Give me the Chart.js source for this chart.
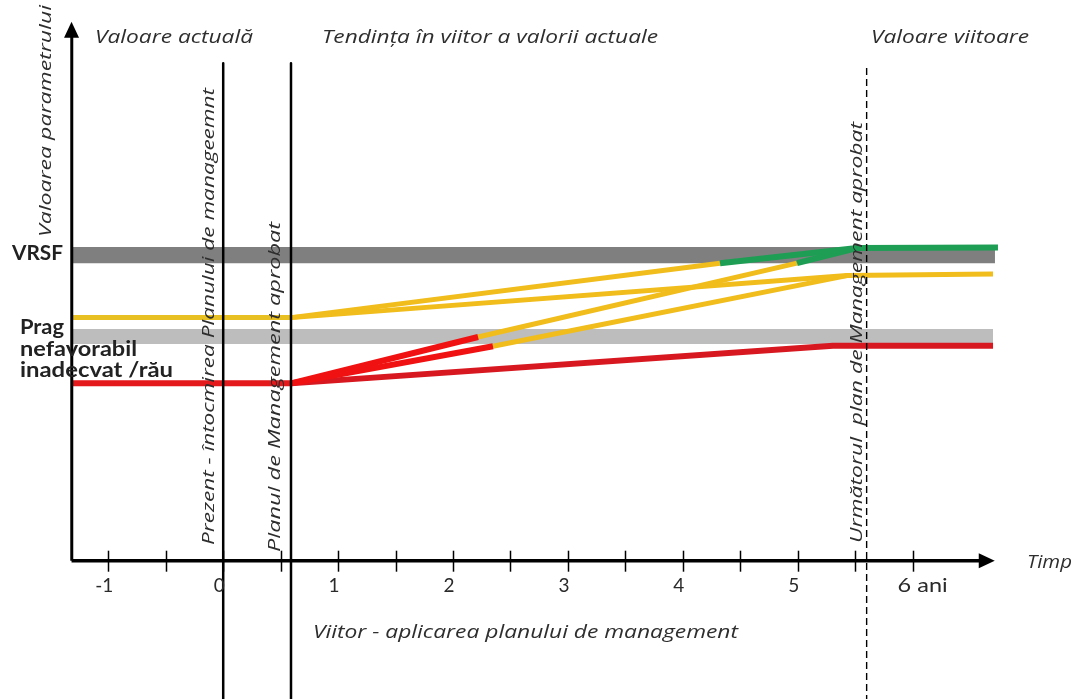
<!DOCTYPE html>
<html>
<head>
<meta charset="utf-8">
<script src="https://cdn.jsdelivr.net/npm/chart.js@4.4.1/dist/chart.umd.min.js"></script>
<style>
  html, body { margin: 0; padding: 0; background: #ffffff; }
  canvas { display: block; }
</style>
</head>
<body>
<canvas id="c" width="1078" height="699"></canvas>
<script>
// ---------- DATA (time in years, parameter value in arbitrary units) ----------
const tickValues = [-1, -0.5, 0, 0.5, 1, 1.5, 2, 2.5, 3, 3.5, 4, 4.5, 5, 5.5, 6];
const tickLabels = ["-1", "0", "1", "2", "3", "4", "5", "6 ani"];
const tickLabelValues = [-1, 0, 1, 2, 3, 4, 5, 6];

const timeStart = -1.32;          // start of the time axis (y axis position)
const timeAxisEnd = 6.715;        // arrow tip of time axis
const paramAxisTop = 100;         // arrow tip of value axis
const planPresent = 0;            // "Prezent - întocmirea Planului..."
const planApproved = 0.59;        // "Planul de Management aprobat"
const planNext = 5.6;             // "Următorul plan de Management aprobat"

// reference bands
const vrsfBandTime = [-1.318, 6.717];
const vrsfBandTop = [58.2, 58.2];
const vrsfBandBottom = [55.2, 55.2];
const pragBandTime = [-1.318, 6.70];
const pragBandTop = [43.0, 43.0];
const pragBandBottom = [40.2, 40.2];

// current value - favourable (yellow) and unfavourable (red)
const actualTime = [-1.32, 0.59];
const actualYellow = [45.1, 45.1];
const actualRed = [32.9, 32.9];

// trends from the yellow current value
const yellowATime = [0.59, 4.324];
const yellowAValue = [45.1, 55.2];
const greenATime = [4.324, 5.516, 6.743];
const greenAValue = [55.2, 58.0, 58.1];
const yellowBTime = [0.59, 5.429, 6.70];
const yellowBValue = [45.1, 52.9, 53.2];

// trends from the red current value
const redATime = [0.59, 2.218];
const redAValue = [32.9, 41.5];
const redAYellowTime = [2.218, 4.994];
const redAYellowValue = [41.5, 55.2];
const redAGreenTime = [4.994, 5.516];
const redAGreenValue = [55.2, 58.0];
const redBTime = [0.59, 2.348];
const redBValue = [32.9, 39.8];
const redBYellowTime = [2.348, 5.429];
const redBYellowValue = [39.8, 52.9];
const redCTime = [0.59, 5.307, 6.70];
const redCValue = [32.9, 39.9, 39.9];

// plan marker lines (value extents)
const markerTopSolid = 92.3;
const markerTopDashed = 91.4;
const markerBottom = -25.66;

// ---------- helpers ----------
const zip = (xs, ys) => xs.map((x, i) => ({ x: x, y: ys[i] }));

const YELLOW = '#F0BD1C';
const RED = '#E3191C';
const RED2 = '#F01212';
const GREEN = '#1E9E55';

function lineDS(xs, ys, color, width, order, extra) {
  return Object.assign({
    data: zip(xs, ys), borderColor: color, borderWidth: width, fill: false,
    pointRadius: 0, tension: 0, order: order,
    borderCapStyle: 'butt', borderJoinStyle: 'round'
  }, extra || {});
}

const datasets = [
  // bands (bottom layer)
  { data: zip(vrsfBandTime, vrsfBandTop), borderWidth: 0, pointRadius: 0, fill: '+1', backgroundColor: '#7F7F7F', order: 20 },
  { data: zip(vrsfBandTime, vrsfBandBottom), borderWidth: 0, pointRadius: 0, fill: false, order: 20 },
  { data: zip(pragBandTime, pragBandTop), borderWidth: 0, pointRadius: 0, fill: '+1', backgroundColor: '#BDBDBD', order: 20 },
  { data: zip(pragBandTime, pragBandBottom), borderWidth: 0, pointRadius: 0, fill: false, order: 20 },
  // trend lines
  lineDS(actualTime, actualYellow, '#E8C021', 5, 10),
  lineDS(actualTime, actualRed, RED, 6, 10),
  lineDS(redCTime, redCValue, '#D81820', 6, 9),
  lineDS(yellowBTime, yellowBValue, YELLOW, 5, 9),
  lineDS(yellowATime, yellowAValue, YELLOW, 5, 8),
  lineDS(redBYellowTime, redBYellowValue, YELLOW, 5, 8),
  lineDS(redAYellowTime, redAYellowValue, YELLOW, 5, 8),
  lineDS(redBTime, redBValue, RED2, 6, 7),
  lineDS(redATime, redAValue, RED2, 6, 7),
  lineDS(greenATime, greenAValue, GREEN, 6, 6),
  lineDS(redAGreenTime, redAGreenValue, GREEN, 6, 6),
  // axes
  lineDS([timeStart + 0.002, timeStart + 0.002], [0, paramAxisTop - 2], '#000', 3, 2),
  lineDS([timeStart, timeAxisEnd - 0.1], [0, 0], '#000', 3.5, 2),
  // plan marker lines
  lineDS([planPresent, planPresent], [markerTopSolid, markerBottom], '#000', 2.5, 1),
  lineDS([planApproved, planApproved], [markerTopSolid, markerBottom], '#000', 2.5, 1),
  lineDS([planNext, planNext], [markerTopDashed, markerBottom], '#000', 1.4, 1, { borderDash: [7, 4] })
];

function fitText(ctx, text, x, y, width, font, rotate) {
  ctx.save();
  ctx.font = font;
  ctx.textAlign = 'left';
  ctx.textBaseline = 'alphabetic';
  const w = ctx.measureText(text).width;
  ctx.translate(x, y);
  if (rotate) ctx.rotate(-Math.PI / 2);
  ctx.scale(width / w, 1);
  ctx.fillText(text, 0, 0);
  ctx.restore();
}

const overlay = {
  id: 'overlay',
  afterDatasetsDraw(chart) {
    const ctx = chart.ctx;
    const xs = chart.scales.x, ys = chart.scales.y;
    const y0 = ys.getPixelForValue(0);
    // ticks on time axis
    ctx.save();
    ctx.strokeStyle = '#000';
    ctx.lineWidth = 1.5;
    tickValues.forEach(v => {
      const px = Math.round(xs.getPixelForValue(v)) + 0.5;
      ctx.beginPath();
      ctx.moveTo(px, y0 - 10);
      ctx.lineTo(px, y0 + 11);
      ctx.stroke();
    });
    // arrow heads
    ctx.fillStyle = '#000';
    const tipX = xs.getPixelForValue(timeAxisEnd);
    ctx.beginPath();
    ctx.moveTo(tipX, y0);
    ctx.lineTo(tipX - 16, y0 - 7.5);
    ctx.lineTo(tipX - 16, y0 + 7.5);
    ctx.closePath();
    ctx.fill();
    const ax = xs.getPixelForValue(timeStart);
    const tipY = ys.getPixelForValue(paramAxisTop);
    ctx.beginPath();
    ctx.moveTo(ax, tipY);
    ctx.lineTo(ax - 7.5, tipY + 16);
    ctx.lineTo(ax + 7.5, tipY + 16);
    ctx.closePath();
    ctx.fill();
    ctx.restore();

    // tick labels
    ctx.save();
    ctx.fillStyle = '#2a2a2a';
    ctx.font = '19px Lato';
    ctx.textBaseline = 'alphabetic';
    tickLabelValues.forEach((v, i) => {
      const px = xs.getPixelForValue(v);
      const label = tickLabels[i];
      if (label.indexOf(' ') > 0) {
        fitText(ctx, label, px - 15, y0 + 31, 50, '19px Lato');
      } else {
        ctx.textAlign = 'center';
        ctx.fillText(label, px - 4, y0 + 31);
      }
    });
    ctx.restore();

    // annotation texts
    ctx.save();
    ctx.fillStyle = '#2e2e2e';
    const it = 'italic 19px "Open Sans"';
    fitText(ctx, 'Valoare actuală', 95, 43, 158, it);
    fitText(ctx, 'Tendința în viitor a valorii actuale', 322, 43, 336, it);
    fitText(ctx, 'Valoare viitoare', 871, 43, 158, it);
    fitText(ctx, 'Timp', 1027, 568, 45, 'italic 18px "Open Sans"');
    fitText(ctx, 'Viitor - aplicarea planului de management', 313, 638, 425, 'italic 18px "Open Sans"');
    const iv = 'italic 16px "Open Sans"';
    fitText(ctx, 'Valoarea parametrului', 51, 237, 232, iv, true);
    fitText(ctx, 'Prezent - întocmirea Planului de manageemnt', 214, 545, 457, iv, true);
    fitText(ctx, 'Planul de Management aprobat', 280, 552, 330, iv, true);
    fitText(ctx, 'Următorul  plan de Management aprobat', 862, 543, 421, iv, true);

    ctx.fillStyle = '#222';
    fitText(ctx, 'VRSF', 12, 260, 51, 'bold 20px Lato');
    fitText(ctx, 'Prag', 20, 334, 44, 'bold 21px Lato');
    fitText(ctx, 'nefavorabil', 20, 356, 117, 'bold 21px Lato');
    fitText(ctx, 'inadecvat /rău', 20, 377, 153, 'bold 21px Lato');
    ctx.restore();
  }
};

new Chart(document.getElementById('c').getContext('2d'), {
  type: 'line',
  data: { datasets: datasets },
  options: {
    responsive: false,
    animation: false,
    devicePixelRatio: 1,
    layout: { padding: 0 },
    plugins: { legend: { display: false }, tooltip: { enabled: false }, title: { display: false } },
    scales: {
      x: { type: 'linear', min: -1.9426, max: 7.4395, display: false },
      y: { type: 'linear', min: -25.66, max: 104.03, display: false }
    },
    elements: { point: { radius: 0 }, line: { tension: 0 } }
  },
  plugins: [overlay]
});
</script>
</body>
</html>
